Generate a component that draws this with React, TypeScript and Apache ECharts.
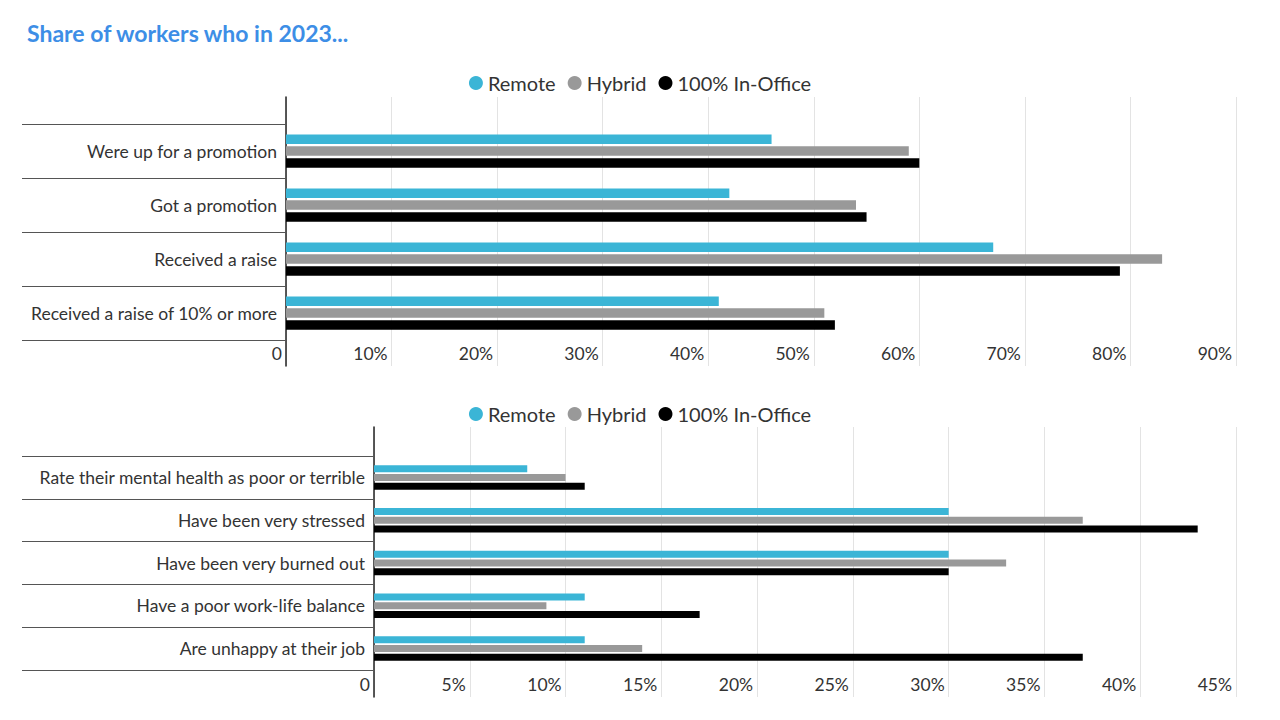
import React, { useEffect, useRef } from 'react';
import * as echarts from 'echarts';

const seriesNames = ['Remote', 'Hybrid', '100% In-Office'];
const colors = ['#3bb5d6', '#999999', '#000000'];

const topCategories = ['Were up for a promotion', 'Got a promotion', 'Received a raise', 'Received a raise of 10% or more'];
const topRemote = [46, 42, 67, 41];
const topHybrid = [59, 54, 83, 51];
const topOffice = [60, 55, 79, 52];

const bottomCategories = [
  'Rate their mental health as poor or terrible',
  'Have been very stressed',
  'Have been very burned out',
  'Have a poor work-life balance',
  'Are unhappy at their job',
];
const bottomRemote = [8, 30, 30, 11, 11];
const bottomHybrid = [10, 37, 33, 9, 14];
const bottomOffice = [11, 43, 30, 17, 37];

const font = 'Lato, "Open Sans", sans-serif';

const App: React.FC = () => {
  const chartRef = useRef<HTMLDivElement | null>(null);

  useEffect(() => {
    if (!chartRef.current) return;
    const chart = echarts.init(chartRef.current, undefined, { renderer: 'svg' });

    const fmt = (v: number) => (v === 0 ? '0' : v + '%');

    const valueAxes = (gridA: number, gridB: number, max: number, interval: number) => [
      {
        gridIndex: gridA, type: 'value', min: 0, max, interval,
        axisLine: { show: false }, axisTick: { show: false },
        splitLine: { lineStyle: { color: '#e3e3e3' } },
        axisLabel: { formatter: fmt, color: '#333', fontSize: 17.5, fontFamily: font, align: 'right', margin: -22, padding: [0, 4, 0, 0] },
      },
      { gridIndex: gridB, type: 'value', min: 0, max, interval, show: false },
    ];

    const frameAxis = (gridIndex: number) => ({
      gridIndex, type: 'value', min: 0, max: 1,
      axisLine: { show: true, lineStyle: { color: '#222', width: 1.5 } },
      axisTick: { show: false }, axisLabel: { show: false }, splitLine: { show: false },
    });

    const catAxis = (gridIndex: number, data: string[], tickLen: number) => ({
      gridIndex, type: 'category', data, inverse: true,
      axisLine: { show: false },
      axisTick: { show: true, length: tickLen, lineStyle: { color: '#555' } },
      axisLabel: { color: '#333', fontSize: 17.5, fontFamily: font, margin: 9 },
    });

    const bars = (xi: number, yi: number, data: number[][], width: number, gap: string) =>
      data.map((d, i) => ({
        name: seriesNames[i], type: 'bar', xAxisIndex: xi, yAxisIndex: yi, data: d,
        barWidth: width, barGap: gap, itemStyle: { color: colors[i] },
      }));

    const legend = (top: number) => ({
      top, left: 'center', icon: 'circle', itemWidth: 14, itemHeight: 14, itemGap: 12,
      data: seriesNames,
      textStyle: { fontSize: 20, color: '#333', fontFamily: font },
    });

    chart.setOption({
      animation: false,
      color: colors,
      title: {
        text: 'Share of workers who in 2023...', left: 14, top: 8,
        textStyle: { fontSize: 23, fontWeight: 'bold', color: '#3d8ee6', fontFamily: font },
      },
      legend: [legend(60), legend(391)],
      grid: [
        { left: 278, right: 36, top: 89, height: 269 },
        { left: 278, right: 36, top: 116, height: 216 },
        { left: 366, right: 36, top: 419, height: 270 },
        { left: 366, right: 36, top: 448, height: 214 },
      ],
      xAxis: [...valueAxes(0, 1, 90, 10), ...valueAxes(2, 3, 45, 5)],
      yAxis: [frameAxis(0), catAxis(1, topCategories, 264), frameAxis(2), catAxis(3, bottomCategories, 352)],
      series: [
        ...bars(1, 1, [topRemote, topHybrid, topOffice], 9.5, '25%'),
        ...bars(3, 3, [bottomRemote, bottomHybrid, bottomOffice], 7, '25%'),
      ],
    });

    return () => chart.dispose();
  }, []);

  return <div ref={chartRef} style={{ width: '1264px', height: '704px' }} />;
};

export default App;
